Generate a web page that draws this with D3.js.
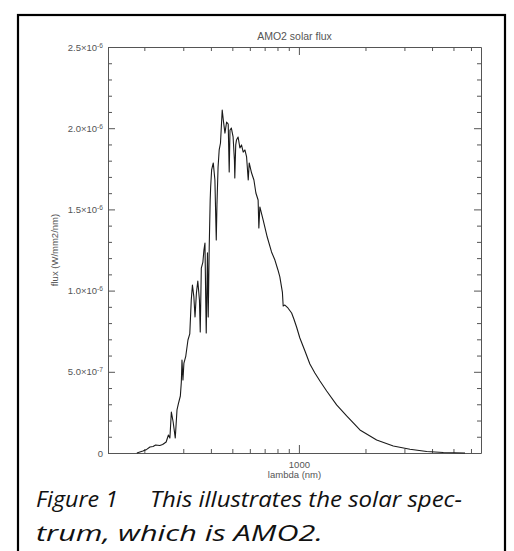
<!DOCTYPE html>
<html>
<head>
<meta charset="utf-8">
<script src="https://cdn.jsdelivr.net/npm/d3@7"></script>
<style>
  body { margin: 0; background: #fff; }
  svg { display: block; }
</style>
</head>
<body>
<svg id="chart"></svg>
<script>
// AM0 solar spectrum: wavelength in nm, flux in 1e-6 W/mm2/nm
const wavelength = [185, 197, 205, 212, 219, 225, 235, 242, 251, 257, 261, 265, 270, 276, 281, 285,
  291, 294, 296, 299, 302, 308, 315, 321, 326, 330, 335, 339, 344, 349, 355, 358, 362, 368, 372, 376,
  379, 381, 386, 389, 393, 397, 399, 403, 410, 417, 423, 426, 431, 436, 442, 450, 455, 463, 471, 479,
  484, 488, 495, 504, 511, 513, 518, 522, 531, 541, 550, 560, 570, 580, 590, 596, 611, 626, 639, 654,
  659, 666, 689, 719, 752, 779, 804, 820, 842, 849, 864, 892, 927, 949, 976, 1010, 1065, 1121, 1181,
  1245, 1335, 1481, 1644, 1888, 2247, 2672, 3178, 3785, 4498, 5639];
const flux = [0, 0.012, 0.022, 0.037, 0.040, 0.049, 0.046, 0.052, 0.068, 0.111, 0.092, 0.252, 0.191,
  0.092, 0.265, 0.302, 0.351, 0.437, 0.573, 0.450, 0.554, 0.597, 0.696, 0.733, 0.942, 1.034, 0.961,
  0.837, 0.985, 1.059, 0.942, 0.745, 1.139, 1.176, 1.250, 1.293, 0.942, 0.739, 1.232, 0.837, 1.262,
  1.558, 1.638, 1.743, 1.786, 1.681, 1.312, 1.527, 1.761, 1.866, 1.909, 2.112, 2.051, 1.970, 2.038,
  2.026, 1.730, 1.989, 2.001, 1.946, 1.804, 1.693, 1.897, 1.927, 1.946, 1.878, 1.897, 1.853, 1.866,
  1.823, 1.681, 1.786, 1.724, 1.681, 1.601, 1.558, 1.386, 1.515, 1.435, 1.330, 1.238, 1.188, 1.127,
  1.084, 0.991, 0.905, 0.911, 0.893, 0.862, 0.825, 0.776, 0.708, 0.628, 0.548, 0.493, 0.443, 0.382,
  0.296, 0.228, 0.142, 0.080, 0.043, 0.023, 0.009, 0.003, 0];

const xExtent = [137, 6660];
const yExtent = [0, 2.5];
const xMajorTicks = [1000];
const xMinorTicks = [200, 300, 400, 500, 600, 700, 800, 900, 2000, 3000, 4000, 5000, 6000];
const yMajorTicks = [0, 0.5, 1.0, 1.5, 2.0, 2.5];
const yMinorTicks = [0.1, 0.2, 0.3, 0.4, 0.6, 0.7, 0.8, 0.9, 1.1, 1.2, 1.3, 1.4, 1.6, 1.7, 1.8, 1.9,
  2.1, 2.2, 2.3, 2.4];
const yTickMantissa = ["0", "5.0\u00d710", "1.0\u00d710", "1.5\u00d710", "2.0\u00d710", "2.5\u00d710"];
const yTickExponent = ["", "-7", "-6", "-6", "-6", "-6"];

const width = 514, height = 551;
const plot = { left: 108, right: 481, top: 47, bottom: 453 };
const axisFont = "'Liberation Sans', Arial, sans-serif";
const axisColor = "#555";

const svg = d3.select("#chart").attr("width", width).attr("height", height);

svg.append("rect")
  .attr("width", width).attr("height", height)
  .attr("fill", "#fff");

// outer frame of the figure
svg.append("rect")
  .attr("x", 18).attr("y", 15)
  .attr("width", 487).attr("height", 570)
  .attr("fill", "none")
  .attr("stroke", "#000")
  .attr("stroke-width", 2.2);

const x = d3.scaleLog().domain(xExtent).range([plot.left, plot.right]);
const y = d3.scaleLinear().domain(yExtent).range([plot.bottom, plot.top]);

const styleAxis = (g) => {
  g.selectAll("path").attr("stroke", axisColor).attr("stroke-width", 1);
  g.selectAll("line").attr("stroke", axisColor).attr("stroke-width", 1);
  g.selectAll("text")
    .attr("fill", axisColor)
    .attr("font-family", axisFont)
    .attr("font-size", 9.5);
};

const addAxis = (axis, translate, showDomain) => {
  const g = svg.append("g")
    .attr("transform", translate)
    .call(axis);
  if (!showDomain) g.select(".domain").remove();
  styleAxis(g);
  return g;
};

// left axis, ticks pointing into the plot
const yLeft = addAxis(
  d3.axisLeft(y).tickValues(yMajorTicks).tickSize(-7).tickSizeOuter(0).tickPadding(5),
  `translate(${plot.left},0)`, true);
yLeft.selectAll(".tick text").each(function (d, i) {
  const t = d3.select(this).text("");
  t.append("tspan").text(yTickMantissa[i]);
  t.append("tspan").attr("dy", "-0.45em").attr("font-size", "70%").text(yTickExponent[i]);
});
addAxis(d3.axisLeft(y).tickValues(yMinorTicks).tickSize(-4).tickFormat(""),
  `translate(${plot.left},0)`, false);

// right axis
addAxis(d3.axisRight(y).tickValues(yMajorTicks).tickSize(-7).tickSizeOuter(0).tickFormat(""),
  `translate(${plot.right},0)`, true);
addAxis(d3.axisRight(y).tickValues(yMinorTicks).tickSize(-4).tickFormat(""),
  `translate(${plot.right},0)`, false);

// bottom axis
addAxis(d3.axisBottom(x).tickValues(xMajorTicks).tickSize(-8).tickSizeOuter(0).tickPadding(8)
  .tickFormat(d3.format("d")),
  `translate(0,${plot.bottom})`, true);
addAxis(d3.axisBottom(x).tickValues(xMinorTicks).tickSize(-4).tickFormat(""),
  `translate(0,${plot.bottom})`, false);

// top axis
addAxis(d3.axisTop(x).tickValues(xMajorTicks).tickSize(-8).tickSizeOuter(0).tickFormat(""),
  `translate(0,${plot.top})`, true);
addAxis(d3.axisTop(x).tickValues(xMinorTicks).tickSize(-4).tickFormat(""),
  `translate(0,${plot.top})`, false);

// spectrum
const points = wavelength.map((w, i) => [w, flux[i]]);
const line = d3.line()
  .x((d) => x(d[0]))
  .y((d) => y(d[1]));

svg.append("path")
  .datum(points)
  .attr("d", line)
  .attr("fill", "none")
  .attr("stroke", "#1a1a1a")
  .attr("stroke-width", 1.1)
  .attr("stroke-linejoin", "round");

const plotCenter = (plot.left + plot.right) / 2;

svg.append("text")
  .attr("x", plotCenter).attr("y", 40)
  .attr("text-anchor", "middle")
  .attr("font-family", axisFont).attr("font-size", 10.5)
  .attr("fill", axisColor)
  .text("AMO2 solar flux");

svg.append("text")
  .attr("x", plotCenter).attr("y", 478)
  .attr("text-anchor", "middle")
  .attr("font-family", axisFont).attr("font-size", 9.5)
  .attr("fill", axisColor)
  .text("lambda (nm)");

svg.append("text")
  .attr("transform", `translate(58,${(plot.top + plot.bottom) / 2}) rotate(-90)`)
  .attr("text-anchor", "middle")
  .attr("font-family", axisFont).attr("font-size", 9.5)
  .attr("fill", axisColor)
  .text("flux (W/mm2/nm)");

// caption
const caption = svg.append("g")
  .attr("font-family", "'Open Sans', 'Noto Sans', sans-serif")
  .attr("font-style", "italic")
  .attr("font-weight", 400)
  .attr("font-size", 22.5)
  .attr("fill", "#111");

caption.append("text")
  .attr("x", 36).attr("y", 507)
  .attr("textLength", 82).attr("lengthAdjust", "spacingAndGlyphs")
  .text("Figure 1");
caption.append("text")
  .attr("x", 150).attr("y", 507)
  .attr("textLength", 312).attr("lengthAdjust", "spacingAndGlyphs")
  .text("This illustrates the solar spec-");
caption.append("text")
  .attr("x", 36).attr("y", 541)
  .attr("textLength", 287).attr("lengthAdjust", "spacingAndGlyphs")
  .text("trum, which is AMO2.");
</script>
</body>
</html>
